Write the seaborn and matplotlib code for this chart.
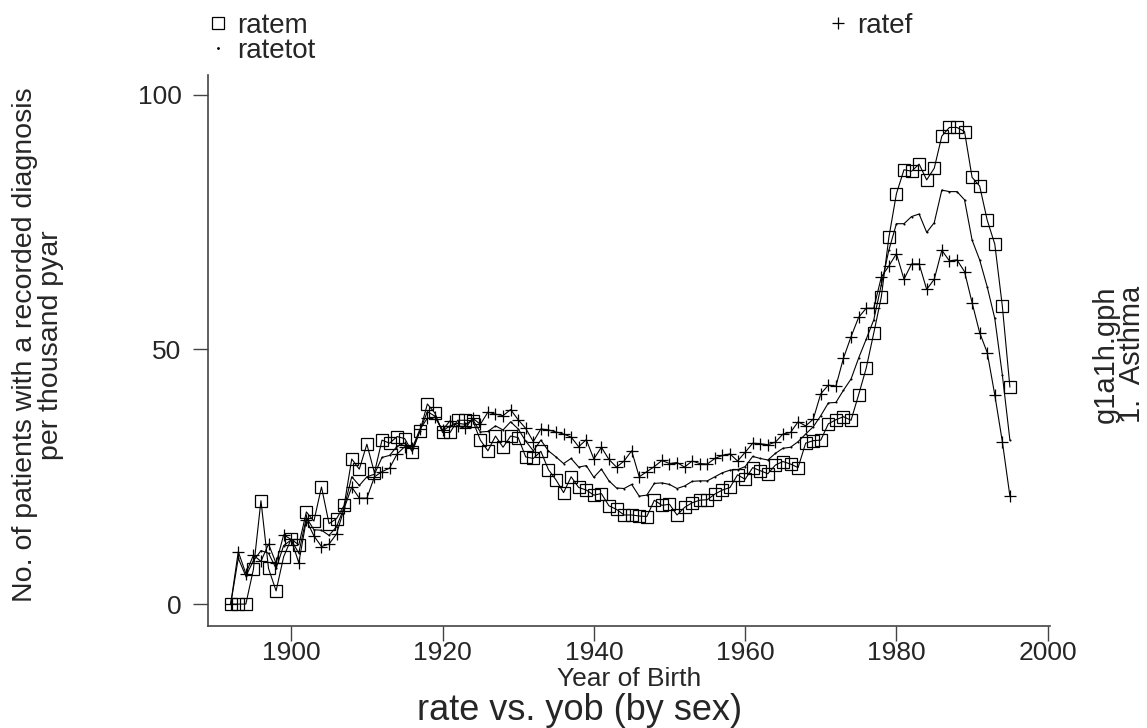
import matplotlib
matplotlib.use("Agg")
import matplotlib.pyplot as plt
from matplotlib.lines import Line2D
import numpy as np
import pandas as pd
import seaborn as sns

# Year of birth
yob = list(range(1892, 1996))

# Male rate per thousand person-years
ratem = [0.0, 0.0, 0.0, 6.8, 20.3, 7.0, 2.6, 9.3, 12.8, 11.6,
         18.1, 16.3, 23.0, 15.8, 16.8, 19.4, 28.5, 26.5, 31.4, 25.8,
         32.2, 31.6, 32.9, 32.5, 29.9, 33.9, 39.3, 37.5, 33.7, 33.7,
         36.1, 36.1, 36.0, 32.2, 30.1, 33.0, 30.8, 33.0, 32.7, 28.9,
         28.6, 30.0, 26.4, 24.4, 21.9, 25.0, 22.9, 22.4, 21.4, 21.7,
         19.3, 18.6, 17.5, 17.5, 17.3, 17.2, 20.4, 19.4, 19.6, 17.5,
         19.0, 19.9, 20.4, 20.5, 21.6, 22.4, 22.9, 25.4, 24.5, 26.8,
         26.2, 25.6, 27.3, 28.0, 27.5, 26.8, 31.6, 32.1, 32.2, 35.4,
         36.2, 36.8, 36.1, 41.1, 46.3, 53.2, 60.3, 72.0, 80.6, 85.3,
         85.0, 86.4, 83.3, 85.6, 91.9, 93.6, 93.6, 92.8, 83.8, 82.1,
         75.4, 70.7, 58.5, 42.6]

# Female rate per thousand person-years
ratef = [0.0, 10.3, 6.0, 9.6, 8.4, 11.8, 8.0, 13.6, 12.7, 8.1,
         16.5, 13.4, 11.3, 11.8, 13.8, 18.8, 23.0, 20.8, 20.8, 25.0,
         26.0, 26.7, 29.5, 30.9, 30.6, 34.3, 36.5, 36.7, 34.2, 36.0,
         35.0, 34.5, 36.5, 35.3, 37.7, 37.3, 37.0, 38.2, 36.2, 34.5,
         31.9, 34.4, 34.2, 33.8, 33.4, 32.8, 30.9, 32.3, 28.5, 30.8,
         28.4, 26.9, 28.1, 30.1, 25.0, 26.0, 27.0, 28.2, 27.6, 27.8,
         26.9, 28.1, 27.6, 27.5, 28.6, 29.2, 29.5, 28.1, 29.8, 31.6,
         31.5, 31.3, 31.8, 33.4, 33.7, 35.8, 35.0, 36.3, 41.3, 43.0,
         42.8, 48.3, 52.5, 56.3, 58.1, 58.1, 64.2, 66.4, 68.8, 63.8,
         66.8, 66.8, 61.8, 63.8, 69.5, 67.4, 67.6, 65.3, 59.2, 53.3,
         49.4, 41.1, 31.9, 21.2]

# Combined rate per thousand person-years
ratetot = [0.0, 9.0, 5.5, 8.5, 10.5, 10.0, 7.0, 11.5, 12.6, 10.0,
           17.0, 14.6, 14.5, 13.5, 15.2, 19.0, 25.0, 23.3, 25.0, 25.5,
           28.8, 29.2, 31.0, 31.6, 30.4, 34.0, 37.8, 36.9, 34.0, 35.0,
           35.5, 35.3, 36.2, 33.8, 33.9, 35.0, 34.2, 35.8, 34.4, 32.0,
           30.1, 32.2, 30.1, 28.9, 27.6, 28.6, 26.9, 27.2, 24.9, 26.5,
           24.2, 22.8, 22.7, 23.5, 21.2, 21.4, 23.7, 23.8, 23.5, 22.7,
           23.2, 24.1, 24.2, 24.2, 25.0, 25.8, 26.3, 26.4, 27.0, 29.0,
           28.6, 28.3, 29.6, 30.6, 30.8, 31.9, 33.4, 34.8, 37.0, 39.5,
           39.6, 42.0, 44.2, 48.3, 52.0, 55.8, 62.7, 69.5, 74.7, 74.7,
           76.1, 76.6, 73.0, 74.9, 81.3, 81.0, 81.0, 79.4, 71.5, 67.6,
           62.3, 56.1, 45.0, 32.2]

xticks = [1900, 1920, 1940, 1960, 1980, 2000]
yticks = [0, 50, 100]

df = pd.DataFrame({"yob": yob, "ratem": ratem, "ratef": ratef, "ratetot": ratetot})

sns.set_theme(style="ticks")
plt.rcParams["font.family"] = ["Liberation Sans", "DejaVu Sans"]

W, H = 1147, 728
fig = plt.figure(figsize=(W / 100, H / 100), dpi=100)
ax = fig.add_axes([208 / W, 1 - 626 / H, (1050 - 208) / W, (626 - 75) / H])

line_kw = dict(color="black", linewidth=0.8, ax=ax, legend=False)
sns.lineplot(data=df, x="yob", y="ratem", marker="s", markersize=8.5,
             markerfacecolor="none", markeredgecolor="black",
             markeredgewidth=0.9, **line_kw)
sns.lineplot(data=df, x="yob", y="ratef", marker="+", markersize=8,
             markeredgecolor="black", markeredgewidth=0.9, **line_kw)
sns.lineplot(data=df, x="yob", y="ratetot", marker=".", markersize=1.5,
             markeredgecolor="black", **line_kw)

ax.set_xlim(1889, 2000.3)
ax.set_ylim(-4.3, 103.9)
ax.set_xticks(xticks)
ax.set_yticks(yticks)
ax.tick_params(axis="both", labelsize=19, color="#444444", width=1.0,
               length=11)
ax.tick_params(axis="x", length=11, pad=0)
ax.tick_params(axis="y", pad=8)
for side in ("top", "right"):
    ax.spines[side].set_visible(False)
for side in ("left", "bottom"):
    ax.spines[side].set_color("#444444")
    ax.spines[side].set_linewidth(1.2)

ax.set_xlabel("Year of Birth", fontsize=19, labelpad=1)
ax.set_ylabel("No. of patients with a recorded diagnosis\nper thousand pyar",
              fontsize=20.5, linespacing=1.0)
ax.yaxis.set_label_coords((64 - 208) / 842, 0.51)

fig.text(0.505, 1 - 711 / H, "rate vs. yob (by sex)", ha="center", va="center",
         fontsize=26)
fig.text(1119 / W, 1 - 354 / H, "g1a1h.gph\n1.  Asthma", rotation=90,
         ha="center", va="center", fontsize=21, linespacing=0.95,
         multialignment="center")

# Key above the plot: two columns
h_m = Line2D([], [], linestyle="none", marker="s", markersize=9,
             markerfacecolor="none", markeredgecolor="black", markeredgewidth=0.9)
h_t = Line2D([], [], linestyle="none", marker=".", markersize=2, color="black")
h_f = Line2D([], [], linestyle="none", marker="+", markersize=8,
             markeredgecolor="black", markeredgewidth=0.9)
leg_kw = dict(frameon=False, fontsize=20, handlelength=0.8, handletextpad=0.28,
              labelspacing=-0.05, borderaxespad=0, borderpad=0)
fig.legend([h_m, h_t], ["ratem", "ratetot"], loc="upper left",
           bbox_to_anchor=(207 / W, 1 - 13 / H), **leg_kw)
fig.legend([h_f], ["ratef"], loc="upper left",
           bbox_to_anchor=(827 / W, 1 - 13 / H), **leg_kw)

fig.savefig("out.png", dpi=100)
